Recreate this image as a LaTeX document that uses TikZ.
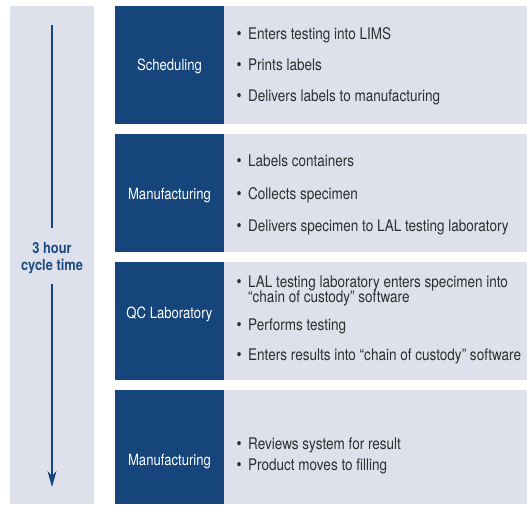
\documentclass[tikz,border=0pt]{standalone}
\usepackage{fontspec}
\setmainfont{TeX Gyre Heros}[FakeStretch=0.845]
\usetikzlibrary{arrows.meta}
\definecolor{darkblue}{HTML}{15457A}
\definecolor{lightbg}{HTML}{DEE1EB}
\definecolor{bodytext}{HTML}{2E2E2E}
\definecolor{titleblue}{HTML}{1B4A80}
\tikzset{
  stagebox/.style={fill=darkblue, draw=none},
  itembox/.style={fill=lightbg, draw=none},
  stagelabel/.style={text=white, font=\fontsize{15.5}{17}\selectfont, inner sep=0pt, anchor=base},
  itemtext/.style={text=bodytext, font=\fontsize{16}{17}\selectfont, inner sep=0pt, anchor=base west},
  bul/.style={text=bodytext, font=\fontsize{17}{17}\selectfont, inner sep=0pt, anchor=base west},
  timeline/.style={draw=darkblue, line width=1.1pt},
  timetext/.style={text=titleblue, font=\fontsize{15.2}{17}\selectfont\bfseries, inner sep=0pt, anchor=base}
}
\begin{document}
\begin{tikzpicture}[x=1pt,y=-1pt]
\useasboundingbox[fill=white] (0,0) rectangle (527,504);
% left time column
\fill[lightbg] (10,6) rectangle (94,504);
\node[timetext] (t1) at (52,253) {3 hour};
\node[timetext] (t2) at (52,270) {cycle time};
\coordinate (atop) at (52,25);
\coordinate (amid1) at (52,228);
\coordinate (amid2) at (52,284);
\coordinate (abot) at (52,487);
\draw[timeline] (atop) -- (amid1);
\draw[timeline, -{Stealth[length=16pt,width=9pt,inset=5pt]}] (amid2) -- (abot);
% row boxes
\fill[stagebox] (115,6) rectangle (224,124);
\fill[itembox] (224,6) rectangle (527,124);
\fill[stagebox] (115,134) rectangle (224,252);
\fill[itembox] (224,134) rectangle (527,252);
\fill[stagebox] (115,262) rectangle (224,380);
\fill[itembox] (224,262) rectangle (527,380);
\fill[stagebox] (115,390) rectangle (224,504);
\fill[itembox] (224,390) rectangle (527,504);
% stage labels
\node[stagelabel] (s1) at (169.5,70) {Scheduling};
\node[stagelabel] (s2) at (169.5,199) {Manufacturing};
\node[stagelabel] (s3) at (169.5,318) {QC Laboratory};
\node[stagelabel] (s4) at (169.5,465) {Manufacturing};
% row 1
\node[bul] (b11) at (236.5,39.5) {\textbullet};
\node[itemtext] (i11) at (248,39.5) {Enters testing into LIMS};
\node[bul] (b12) at (236.5,70.5) {\textbullet};
\node[itemtext] (i12) at (248,70.5) {Prints labels};
\node[bul] (b13) at (236.5,101) {\textbullet};
\node[itemtext] (i13) at (248,101) {Delivers labels to manufacturing};
% row 2
\node[bul] (b21) at (236.5,166) {\textbullet};
\node[itemtext] (i21) at (248,166) {Labels containers};
\node[bul] (b22) at (236.5,199) {\textbullet};
\node[itemtext] (i22) at (248,199) {Collects specimen};
\node[bul] (b23) at (236.5,231) {\textbullet};
\node[itemtext] (i23) at (248,231) {Delivers specimen to LAL testing laboratory};
% row 3
\node[bul] (b31) at (236.5,287.3) {\textbullet};
\node[itemtext] (i31) at (248,287.3) {LAL testing laboratory enters specimen into};
\node[itemtext] (i31b) at (248,302.7) {“chain of custody” software};
\node[bul] (b32) at (236.5,330.7) {\textbullet};
\node[itemtext] (i32) at (248,330.7) {Performs testing};
\node[bul] (b33) at (236.5,360.7) {\textbullet};
\node[itemtext] (i33) at (248,360.7) {Enters results into “chain of custody” software};
% row 4
\node[bul] (b41) at (236.5,449) {\textbullet};
\node[itemtext] (i41) at (248,449) {Reviews system for result};
\node[bul] (b42) at (236.5,470.7) {\textbullet};
\node[itemtext] (i42) at (248,470.7) {Product moves to filling};
\end{tikzpicture}
\end{document}
